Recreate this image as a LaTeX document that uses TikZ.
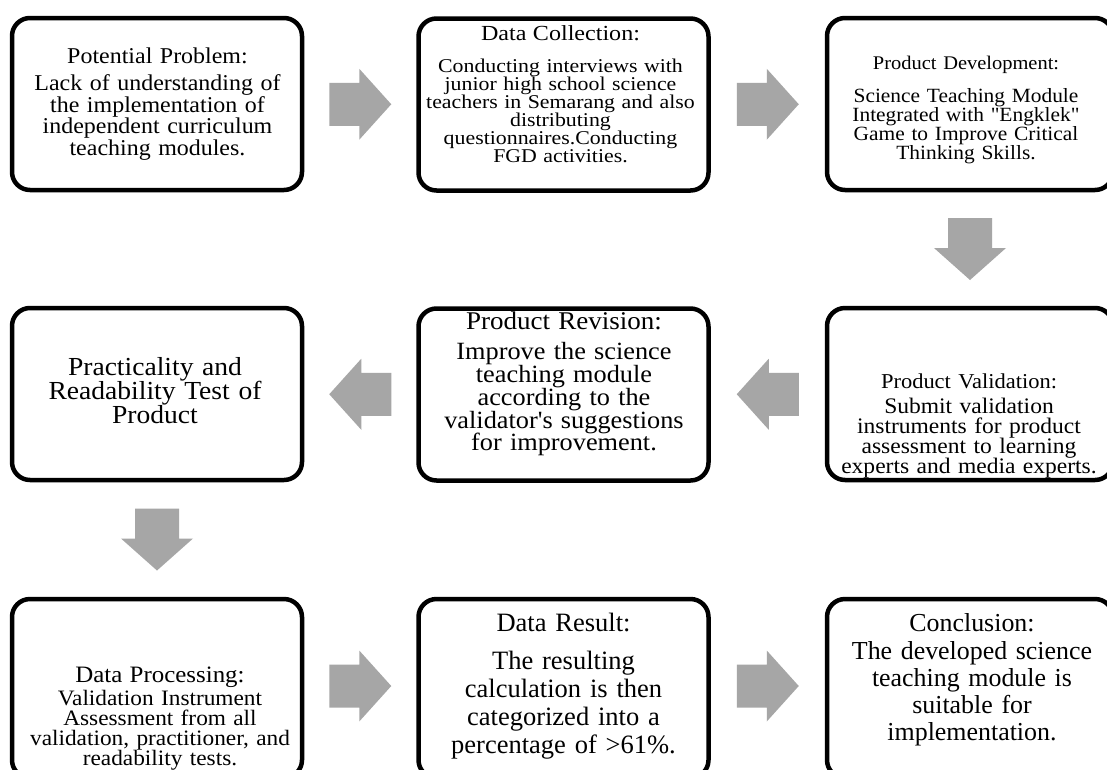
\documentclass[tikz,border=0pt]{standalone}
\usepackage{fontspec}
\setmainfont{Liberation Serif}[Ligatures=TeXOff]
\newfontfamily\widefont{Liberation Serif}[FakeStretch=1.06,Ligatures=TeXOff]
\newfontfamily\widerfont{Liberation Serif}[FakeStretch=1.12,Ligatures=TeXOff]
\usetikzlibrary{calc}
\definecolor{arrowgray}{RGB}{166,166,166}
\begin{document}
\begin{tikzpicture}[x=1pt,y=-1pt,
  box/.style={draw=black, line width=4.5pt, rounded corners=18pt,
    minimum width=290pt, minimum height=172pt, inner sep=0pt},
  lastrow/.style={minimum height=179pt},
  rightcol/.style={minimum width=286pt},
  txt/.style={align=center, inner sep=0pt, text width=284pt,
    execute at begin node={\lineskiplimit=-100pt}},
  rarr/.pic={\fill[arrowgray] (-31,-21.5) -- (-1,-21.5) -- (-1,-35.5) -- (31,0)
      -- (-1,35.5) -- (-1,21.5) -- (-31,21.5) -- cycle;},
  larr/.pic={\fill[arrowgray] (31,-21.5) -- (1,-21.5) -- (1,-35.5) -- (-31,0)
      -- (1,35.5) -- (1,21.5) -- (31,21.5) -- cycle;},
  darr/.pic={\fill[arrowgray] (-22,-31) -- (22,-31) -- (22,-1) -- (36,-1)
      -- (0,31) -- (-36,-1) -- (-22,-1) -- cycle;}
]
\useasboundingbox (0,0) rectangle (1107,769);
\clip (0,0) rectangle (1107,769);
\fill[white] (0,0) rectangle (1107,769);

% boxes
\node[box] (b1) at (157,104) {};
\node[box] (b2) at (563.5,104.5) {};
\node[box, rightcol] (b3) at (970,104) {};
\node[box] (b4) at (157,394) {};
\node[box] (b5) at (563.5,394.5) {};
\node[box, rightcol] (b6) at (970,394) {};
\node[box, lastrow] (b7) at (157,688.5) {};
\node[box, lastrow] (b8) at (563.5,688.5) {};
\node[box, lastrow, rightcol] (b9) at (970,688.5) {};

% texts
\node[txt, font=\widefont\fontsize{22.6}{21.7}\selectfont] (t1) at ($(b1.center)+(0.5,0)$)
  {Potential Problem:\\[5.3pt] Lack of understanding of\\ the implementation of\\ independent curriculum\\ teaching modules.};
\node[txt, font=\widerfont\fontsize{19.5}{18}\selectfont] (t2) at ($(b2.center)+(-3,-10.5)$)
  {{\fontsize{21.5}{18}\selectfont Data Collection:}\\[14pt] Conducting interviews with\\ junior high school science\\ teachers in Semarang and also\\ distributing\\ questionnaires.Conducting\\ FGD activities.};
\node[txt, font=\widefont\fontsize{20.2}{18.9}\selectfont] (t3) at ($(b3.center)+(-4,6)$)
  {{\fontsize{19.3}{18.9}\selectfont Product Development:}\\[14pt] Science Teaching Module\\ Integrated with "Engklek"\\ Game to Improve Critical\\ Thinking Skills.};
\node[txt, font=\widefont\fontsize{26}{24}\selectfont] (t4) at ($(b4.center)+(-2,-3)$)
  {Practicality and\\ Readability Test of\\ Product};
\node[txt, font=\widefont\fontsize{24.8}{22.9}\selectfont] (t5) at ($(b5.center)+(0.5,-10.5)$)
  {{\fontsize{25.5}{22.9}\selectfont Product Revision:}\\[7pt] Improve the science\\ teaching module\\ according to the\\ validator's suggestions\\ for improvement.};
\node[txt, font=\widefont\fontsize{22.2}{20.3}\selectfont] (t6) at ($(b6.center)+(-1,32)$)
  {{\fontsize{21.2}{20.3}\selectfont Product Validation:}\\[4.7pt] Submit validation\\ instruments for product\\ assessment to learning\\ experts and media experts.};
\node[txt, font=\widefont\fontsize{22}{20}\selectfont] (t7) at ($(b7.center)+(3,30)$)
  {{\fontsize{23.5}{20}\selectfont Data Processing:}\\[2.5pt] Validation Instrument\\ Assessment from all\\ validation, practitioner, and\\ readability tests.};
\node[txt, font=\fontsize{26.5}{28}\selectfont] (t8) at ($(b8.center)+(0,-2.5)$)
  {Data Result:\\[10pt] The resulting\\ calculation is then\\ categorized into a\\ percentage of >61\%.};
\node[txt, font=\fontsize{25.9}{27}\selectfont] (t9) at ($(b9.center)+(2,-8.5)$)
  {Conclusion:\\[1pt] The developed science\\ teaching module is\\ suitable for\\ implementation.};

% block arrows
\coordinate (m12) at ($(b1.east)!0.5!(b2.west)$);
\coordinate (m23) at ($(b2.east)!0.5!(b3.west)$);
\coordinate (m36) at ($(b3.south)!0.5!(b6.north)$);
\coordinate (m65) at ($(b6.west)!0.5!(b5.east)$);
\coordinate (m54) at ($(b5.west)!0.5!(b4.east)$);
\coordinate (m47) at ($(b4.south)!0.5!(b7.north)$);
\coordinate (m78) at ($(b7.east)!0.5!(b8.west)+(0,-2.5)$);
\coordinate (m89) at ($(b8.east)!0.5!(b9.west)+(0,-2.5)$);
\pic at (m12) {rarr};
\pic at (m23) {rarr};
\pic at (m36) {darr};
\pic at (m65) {larr};
\pic at (m54) {larr};
\pic at (m47) {darr};
\pic at (m78) {rarr};
\pic at (m89) {rarr};
\end{tikzpicture}
\end{document}
